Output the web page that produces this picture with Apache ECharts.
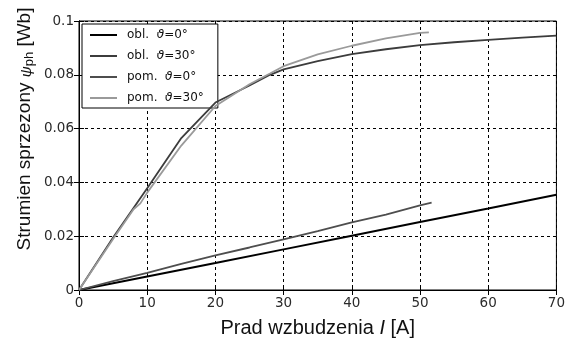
<!DOCTYPE html>
<html>
<head>
<meta charset="utf-8">
<script src="https://cdn.jsdelivr.net/npm/echarts@6/dist/echarts.min.js"></script>
<style>
  html, body { margin: 0; padding: 0; background: #fff; }
  #chart { width: 568px; height: 343px; }
</style>
</head>
<body>
<div id="chart"></div>
<script>
// dane
const oblT0_x = [0, 10, 20, 30, 40, 50, 60, 70];
const oblT0_y = [0, 0.0050, 0.0100, 0.0151, 0.0202, 0.0253, 0.0303, 0.0354];

const oblT30_x = [0, 5, 10, 15, 20, 25, 28, 30, 35, 40, 45, 50, 55, 60, 65, 70];
const oblT30_y = [0, 0.0195, 0.0378, 0.0565, 0.0697, 0.0760, 0.0800, 0.0820, 0.0851, 0.0877, 0.0895, 0.0910, 0.0921, 0.0930, 0.0938, 0.0946];

const pomT0_x = [0, 5, 10, 15, 20, 25, 30, 35, 40, 45, 50, 51.7];
const pomT0_y = [0, 0.0033, 0.0064, 0.0097, 0.0129, 0.0158, 0.0188, 0.0219, 0.0251, 0.0280, 0.0315, 0.0325];

const pomT30_x = [0, 5, 8, 9, 10, 15, 20, 25, 28, 30, 35, 40, 45, 50, 51.3];
const pomT30_y = [0, 0.0190, 0.0300, 0.0322, 0.0362, 0.0537, 0.0684, 0.0765, 0.0805, 0.0832, 0.0876, 0.0908, 0.0935, 0.0956, 0.0958];

const seriesNames = ['obl.  ϑ=0°', 'obl.  ϑ=30°', 'pom.  ϑ=0°', 'pom.  ϑ=30°'];
const seriesColors = ['#000000', '#3c3c3c', '#4e4e4e', '#9a9a9a'];

function pairs(xs, ys) {
  return xs.map((x, i) => [x, ys[i]]);
}

const chart = echarts.init(document.getElementById('chart'));

const dataSets = [
  pairs(oblT0_x, oblT0_y),
  pairs(oblT30_x, oblT30_y),
  pairs(pomT0_x, pomT0_y),
  pairs(pomT30_x, pomT30_y)
];

const tickFont = { fontFamily: 'DejaVu Sans', fontSize: 13.5, color: '#2a2a2a' };

let option = {
  animation: false,
  backgroundColor: '#fff',
  grid: {
    left: 79,
    right: 9,
    top: 21,
    bottom: 48,
    show: true,
    borderColor: '#000',
    borderWidth: 1
  },
  legend: {
    left: 82,
    top: 24,
    orient: 'vertical',
    icon: 'rect',
    itemWidth: 27,
    itemHeight: 2,
    itemGap: 7,
    padding: [4, 14, 3, 8],
    borderColor: '#000',
    borderWidth: 1,
    borderRadius: 0,
    backgroundColor: '#fff',
    data: seriesNames,
    formatter: function (name) {
      return name.replace('ϑ', '{i|ϑ}');
    },
    textStyle: {
      fontFamily: 'DejaVu Sans',
      fontSize: 12,
      lineHeight: 14,
      color: '#111',
      padding: [0, 0, 0, 5],
      rich: {
        i: { fontFamily: 'DejaVu Sans', fontStyle: 'italic', fontSize: 12, color: '#111' }
      }
    }
  },
  xAxis: [
    {
      type: 'value',
      min: 0,
      max: 70,
      interval: 10,
      name: 'Prad wzbudzenia {i|I} [A]',
      nameLocation: 'middle',
      nameGap: 28,
      nameTextStyle: {
        fontFamily: 'Liberation Sans',
        fontSize: 20,
        color: '#111',
        rich: {
          i: { fontFamily: 'Liberation Sans', fontStyle: 'italic', fontSize: 20, color: '#111' }
        }
      },
      axisLine: { show: true, lineStyle: { color: '#000', width: 1 } },
      axisTick: { show: true, inside: true, length: 5, lineStyle: { color: '#000' } },
      axisLabel: Object.assign({ margin: 6 }, tickFont),
      splitLine: { show: true, lineStyle: { color: '#000', type: [3, 3], width: 1 } }
    },
    {
      type: 'value',
      position: 'top',
      min: 0,
      max: 70,
      interval: 10,
      axisLine: { show: true, lineStyle: { color: '#000' } },
      axisTick: { show: true, inside: true, length: 5, lineStyle: { color: '#000' } },
      axisLabel: { show: false },
      splitLine: { show: false }
    }
  ],
  yAxis: [
    {
      type: 'value',
      min: 0,
      max: 0.1,
      interval: 0.02,
      axisLine: { show: true, lineStyle: { color: '#000', width: 1 } },
      axisTick: { show: true, inside: true, length: 5, lineStyle: { color: '#000' } },
      axisLabel: Object.assign({ margin: 5 }, tickFont),
      splitLine: { show: true, lineStyle: { color: '#000', type: [3, 3], width: 1 } }
    },
    {
      type: 'value',
      position: 'right',
      min: 0,
      max: 0.1,
      interval: 0.02,
      axisLine: { show: true, lineStyle: { color: '#000' } },
      axisTick: { show: true, inside: true, length: 5, lineStyle: { color: '#000' } },
      axisLabel: { show: false },
      splitLine: { show: false }
    }
  ],
  graphic: [
    {
      type: 'text',
      x: 25,
      y: 129,
      rotation: Math.PI / 2,
      style: {
        text: 'Strumien sprzezony {i|ψ}{s|ph} [Wb]',
        fontFamily: 'Liberation Sans',
        fontSize: 19,
        fill: '#111',
        align: 'center',
        verticalAlign: 'middle',
        rich: {
          i: { fontFamily: 'Liberation Sans', fontStyle: 'italic', fontSize: 15, fill: '#111', padding: [4, 0, 0, 0] },
          s: { fontFamily: 'Liberation Sans', fontSize: 13, fill: '#111', padding: [8, 0, 0, 0] }
        }
      }
    }
  ],
  series: seriesNames.map((name, i) => ({
    name: name,
    type: 'line',
    xAxisIndex: 0,
    yAxisIndex: 0,
    data: dataSets[i],
    showSymbol: false,
    symbol: 'none',
    lineStyle: { color: seriesColors[i], width: i === 0 ? 2 : 1.8 },
    itemStyle: { color: seriesColors[i] },
    z: 3 + i
  }))
};

chart.setOption(option);
</script>
</body>
</html>
